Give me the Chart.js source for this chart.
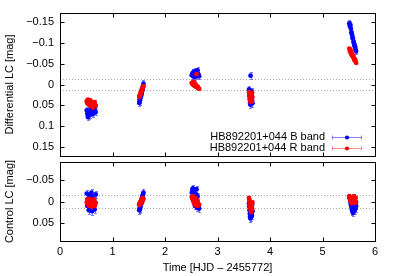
<!DOCTYPE html>
<html><head><meta charset="utf-8">
<script src="https://cdn.jsdelivr.net/npm/chart.js@4"></script>
<style>
html,body{margin:0;padding:0;background:#fff;}
#wrap{position:relative;width:395px;height:276px;overflow:hidden;background:#fff;}
canvas{position:absolute;left:0;}
#c1{top:0;}
#c2{top:158px;}
</style></head><body>
<div id="wrap"><canvas id="c1" width="395" height="160"></canvas><canvas id="c2" width="395" height="118"></canvas></div>
<script>
// ---- data ----
const t1 = [0.51,0.52,0.53,0.55,0.56,0.57,0.58,0.60,0.61,0.62,0.63,0.65,0.66,0.68];
const t2 = [1.51,1.515,1.52,1.525,1.53,1.54,1.545,1.55,1.555,1.56,1.57,1.575,1.58,1.59];
const t3 = [2.51,2.52,2.53,2.54,2.55,2.56,2.57,2.58,2.59,2.60,2.61,2.62,2.63,2.65];
const t4 = [3.60,3.605,3.61,3.615,3.62,3.625,3.63,3.635,3.64,3.645,3.65,3.655,3.66,3.665];
const t5 = [5.51,5.52,5.53,5.54,5.55,5.56,5.57,5.58,5.59,5.60,5.61,5.62,5.63,5.64];

// Differential LC, B band
const diffB1 = [0.062,0.070,0.078,0.074,0.066,0.072,0.060,0.068,0.064,0.058,0.070,0.062,0.056,0.066];
const diffB2 = [0.044,0.040,0.036,0.034,0.030,0.028,0.024,0.022,0.018,0.015,0.012,0.008,0.004,-0.002];
const diffB3 = [-0.022,-0.025,-0.028,-0.020,-0.030,-0.026,-0.018,-0.032,-0.024,-0.028,-0.022,-0.034,-0.026,-0.020];
const diffB4 = [0.012,0.020,0.028,0.036,0.044,0.048,-0.021,0.040,0.032,0.024,0.016,0.030,0.038,0.045];
const diffB5 = [-0.146,-0.140,-0.143,-0.134,-0.125,-0.120,-0.112,-0.110,-0.102,-0.098,-0.092,-0.090,-0.084,-0.080];
// Differential LC, R band
const diffR1 = [0.040,0.045,0.036,0.048,0.042,0.050,0.038,0.046,0.052,0.044,0.055,0.048,0.042,0.050];
const diffR2 = [0.030,0.028,0.026,0.025,0.022,0.020,0.018,0.016,0.014,0.012,0.010,0.008,0.006,0.004];
const diffR3 = [-0.004,-0.002,0.000,-0.006,0.002,-0.003,0.004,-0.001,0.003,-0.025,0.006,0.005,0.008,0.010];
const diffR4 = [0.018,0.022,0.026,0.030,0.034,0.038,0.042,0.028,0.024,0.032,0.036,0.040,0.020,0.030];
const diffR5 = [-0.086,-0.080,-0.084,-0.075,-0.078,-0.070,-0.072,-0.066,-0.068,-0.062,-0.058,-0.060,-0.055,-0.052];

// Control LC, B band
const ctrlB1 = [-0.018,0.010,-0.006,0.020,-0.014,0.016,0.004,-0.020,0.022,-0.010,0.014,-0.002,0.018,-0.016];
const ctrlB2 = [0.020,0.016,0.018,0.010,0.012,0.006,0.002,0.004,-0.004,-0.008,-0.012,-0.010,-0.016,-0.020];
const ctrlB3 = [-0.020,-0.026,-0.030,-0.014,-0.024,-0.008,0.010,-0.018,0.004,-0.028,0.014,-0.012,0.006,0.016];
const ctrlB4 = [0.004,0.012,0.020,0.028,0.034,0.038,0.030,0.024,0.036,0.016,0.026,0.032,0.008,0.022];
const ctrlB5 = [-0.010,-0.006,0.000,0.006,0.012,0.018,0.022,0.026,0.014,0.008,0.020,0.004,0.016,0.010];
// Control LC, R band
const ctrlR1 = [0.002,-0.004,0.006,0.010,-0.006,0.004,0.008,-0.002,0.012,0.000,0.006,-0.005,0.010,0.003];
const ctrlR2 = [0.006,0.008,0.004,0.002,0.005,0.000,-0.002,0.003,-0.004,-0.006,-0.002,-0.008,-0.004,-0.006];
const ctrlR3 = [-0.010,-0.006,-0.012,0.000,-0.004,0.004,0.008,-0.008,0.002,0.006,0.010,-0.002,0.004,0.008];
const ctrlR4 = [-0.008,-0.004,0.000,0.004,0.008,0.012,0.016,0.020,0.024,0.006,0.010,0.014,0.018,0.002];
const ctrlR5 = [-0.012,-0.008,-0.004,0.000,0.004,-0.010,-0.006,-0.002,0.002,-0.012,-0.006,0.003,-0.008,0.001];

const errDiffB = 0.008, errDiffR = 0.004, errCtrlB = 0.008, errCtrlR = 0.005;

const labelB = 'HB892201+044 B band';
const labelR = 'HB892201+044 R band';

const xTickValues = [0,1,2,3,4,5,6];
const xTickLabels = ['0','1','2','3','4','5','6'];
const topTickValues = [-0.15,-0.1,-0.05,0,0.05,0.1,0.15];
const topTickLabels = ['\u22120.15','\u22120.1','\u22120.05','0','0.05','0.1','0.15'];
const botTickValues = [-0.05,0,0.05];
const botTickLabels = ['\u22120.05','0','0.05'];
const refLevels = [-0.014, 0.014];
const topRange = [-0.171, 0.171];
const botRange = [-0.09, 0.09];

// ---- build ----
const times = [t1,t2,t3,t4,t5];
function pts(nights){
  const out=[];
  nights.forEach((vals,n)=>vals.forEach((v,i)=>out.push({x:times[n][i], y:v})));
  return out;
}
function ds(label, data, color, errColor, err, order){
  return {label, data, backgroundColor:color, borderColor:color, borderWidth:0,
    pointRadius:2.4, pointStyle:'circle', errorColor:errColor, err, order};
}
const BLUE='#0000ff', RED='#ff0000', BLUE_E='rgba(90,90,255,0.75)', RED_E='rgba(255,110,110,0.8)';

Chart.defaults.font.family = "'Liberation Sans', Arial, Helvetica, sans-serif";
Chart.defaults.font.size = 11;
Chart.defaults.color = '#000';

const framePlugin = {
  id:'frame',
  beforeDatasetsDraw(chart, args, o){
    const {ctx, chartArea:a, scales:{x,y}} = chart;
    ctx.save();
    ctx.strokeStyle='#a8a8a8'; ctx.lineWidth=1; ctx.setLineDash([1,2]);
    o.refs.forEach(v=>{const py=Math.round(y.getPixelForValue(v))+0.5;ctx.beginPath();ctx.moveTo(a.left,py);ctx.lineTo(a.right,py);ctx.stroke();});
    ctx.setLineDash([]);
    chart.data.datasets.slice().reverse().forEach(d=>{
      ctx.strokeStyle=d.errorColor; ctx.lineWidth=1;
      d.data.forEach(p=>{
        const px=Math.round(x.getPixelForValue(p.x))+0.5;
        const y1=Math.round(y.getPixelForValue(p.y-d.err))+0.5, y2=Math.round(y.getPixelForValue(p.y+d.err))+0.5;
        ctx.beginPath();ctx.moveTo(px,y1);ctx.lineTo(px,y2);
        ctx.moveTo(px-1.5,y1);ctx.lineTo(px+1.5,y1);ctx.moveTo(px-1.5,y2);ctx.lineTo(px+1.5,y2);ctx.stroke();
      });
    });
    ctx.restore();
  },
  afterDraw(chart, args, o){
    const {ctx, chartArea:a, scales:{x,y}} = chart;
    const L=Math.round(a.left)+0.5, R=Math.round(a.right)+0.5, T=Math.round(a.top)+0.5, B=Math.round(a.bottom)+0.5;
    ctx.save();
    ctx.strokeStyle='#000'; ctx.lineWidth=1;
    ctx.strokeRect(L,T,R-L,B-T);
    const tl=4;
    ctx.beginPath();
    o.xTicks.forEach(v=>{ if(v<=x.min||v>=x.max) return; const px=Math.round(x.getPixelForValue(v))+0.5;
      ctx.moveTo(px,B);ctx.lineTo(px,B-tl);ctx.moveTo(px,T);ctx.lineTo(px,T+tl);});
    o.yTicks.forEach(v=>{ const py=Math.round(y.getPixelForValue(v))+0.5;
      ctx.moveTo(L,py);ctx.lineTo(L+tl,py);ctx.moveTo(R,py);ctx.lineTo(R-tl,py);});
    ctx.stroke();
    if(o.legend){
      const rows=[{y:137,ds:chart.data.datasets[1]},{y:148,ds:chart.data.datasets[0]}];
      ctx.font="11px 'Liberation Sans', Arial, sans-serif"; ctx.textAlign='right'; ctx.textBaseline='middle'; ctx.fillStyle='#000';
      rows.forEach(r=>{
        ctx.fillText(r.ds.label, 325, r.y);
        const yy=r.y+0.5;
        ctx.strokeStyle=r.ds.errorColor;
        ctx.beginPath();ctx.moveTo(332,yy);ctx.lineTo(362,yy);
        ctx.moveTo(332.5,yy-2);ctx.lineTo(332.5,yy+2);ctx.moveTo(361.5,yy-2);ctx.lineTo(361.5,yy+2);ctx.stroke();
        ctx.fillStyle=r.ds.backgroundColor;ctx.beginPath();ctx.arc(347,yy,2.1,0,Math.PI*2);ctx.fill();
        ctx.fillStyle='#000';
      });
    }
    ctx.restore();
  }
};

function noPad(s){ s.paddingTop=0; s.paddingBottom=0; s.paddingLeft=0; s.paddingRight=0; }

function yScale(range, tv, tl, title){
  return {type:'linear', min:range[0], max:range[1], reverse:true,
    afterFit(s){s.width=60; noPad(s);},
    afterBuildTicks(s){s.ticks=tv.map(v=>({value:v}));},
    grid:{display:false, drawTicks:false}, border:{display:false},
    ticks:{padding:6, color:'#000', autoSkip:false, callback:(v)=>{const i=tv.findIndex(t=>Math.abs(t-v)<1e-9);return i<0?'':tl[i];}},
    title:{display:true, text:title, color:'#000', padding:{top:3,bottom:0}}
  };
}

new Chart(document.getElementById('c1'), {
  type:'scatter',
  data:{datasets:[
    ds(labelR, pts([diffR1,diffR2,diffR3,diffR4,diffR5]), RED, RED_E, errDiffR, 1),
    ds(labelB, pts([diffB1,diffB2,diffB3,diffB4,diffB5]), BLUE, BLUE_E, errDiffB, 2)
  ]},
  options:{responsive:false, animation:false, events:[],
    layout:{padding:{left:0,right:20,top:13,bottom:3}},
    plugins:{legend:{display:false}, tooltip:{enabled:false},
      frame:{refs:refLevels, xTicks:xTickValues, yTicks:topTickValues, legend:true}},
    scales:{
      x:{type:'linear', min:0, max:6, display:false, afterFit(s){noPad(s);}},
      y:yScale(topRange, topTickValues, topTickLabels, 'Differential LC [mag]')
    }
  },
  plugins:[framePlugin]
});

new Chart(document.getElementById('c2'), {
  type:'scatter',
  data:{datasets:[
    ds(labelR, pts([ctrlR1,ctrlR2,ctrlR3,ctrlR4,ctrlR5]), RED, RED_E, errCtrlR, 1),
    ds(labelB, pts([ctrlB1,ctrlB2,ctrlB3,ctrlB4,ctrlB5]), BLUE, BLUE_E, errCtrlB, 2)
  ]},
  options:{responsive:false, animation:false, events:[],
    layout:{padding:{left:0,right:20,top:4,bottom:0}},
    plugins:{legend:{display:false}, tooltip:{enabled:false},
      frame:{refs:refLevels, xTicks:xTickValues, yTicks:botTickValues, legend:false}},
    scales:{
      x:{type:'linear', min:0, max:6, position:'bottom',
        afterFit(s){s.height=35; noPad(s);},
        afterBuildTicks(s){s.ticks=xTickValues.map(v=>({value:v}));},
        grid:{display:false, drawTicks:false}, border:{display:false},
        ticks:{padding:4, color:'#000', maxRotation:0, autoSkip:false, callback:(v)=>{const i=xTickValues.indexOf(v);return i<0?'':xTickLabels[i];}},
        title:{display:true, text:'Time [HJD \u2013 2455772]', color:'#000', padding:{top:0,bottom:1}}
      },
      y:yScale(botRange, botTickValues, botTickLabels, 'Control LC [mag]')
    }
  },
  plugins:[framePlugin]
});
</script>
</body></html>
